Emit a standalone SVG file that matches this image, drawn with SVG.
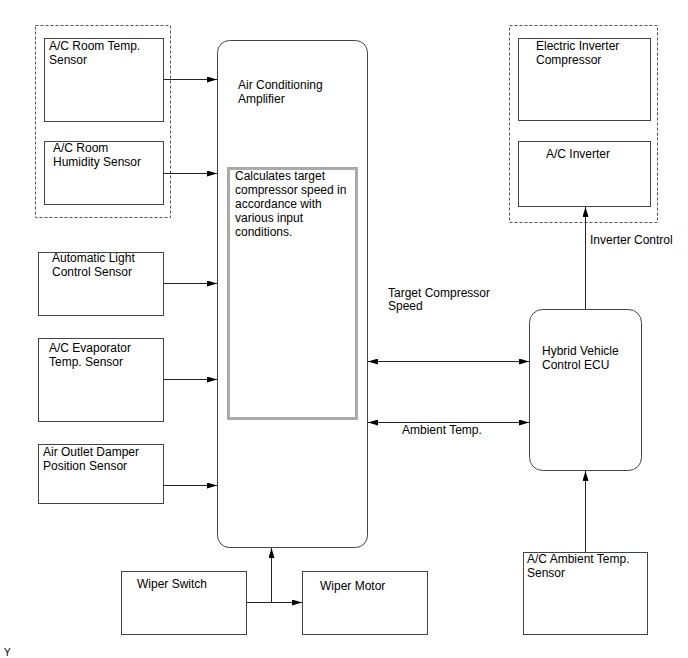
<svg xmlns="http://www.w3.org/2000/svg" width="688" height="658" viewBox="0 0 688 658">
<defs>
<marker id="ah" viewBox="0 0 10 6" refX="10" refY="3" markerWidth="10" markerHeight="6" markerUnits="userSpaceOnUse" orient="auto-start-reverse">
<path d="M0,0 L10,3 L0,6 z" fill="#000"/>
</marker>
<style>
text{font-family:"Liberation Sans",Arial,sans-serif;font-size:12px;fill:#000}
.box{fill:#fff;stroke:#444;stroke-width:1}
.grp{fill:none;stroke:#555;stroke-width:1;stroke-dasharray:3,2}
.ln{fill:none;stroke:#222;stroke-width:1}
.arr{marker-end:url(#ah)}
.dbl{marker-start:url(#ah);marker-end:url(#ah)}
</style>
</defs>
<rect width="688" height="658" fill="#fff"/>
<rect class="grp" x="35.5" y="25.5" width="135" height="192"/>
<rect class="grp" x="509.5" y="25.5" width="148" height="197"/>

<g id="roomTemp"><rect class="box" x="44.5" y="38.5" width="119" height="83"/><text x="49" y="50">A/C Room Temp.</text><text x="49" y="64">Sensor</text></g>
<g id="roomHumidity"><rect class="box" x="44.5" y="141.5" width="119" height="63"/><text x="53" y="152">A/C Room</text><text x="53" y="166">Humidity Sensor</text></g>
<g id="lightSensor"><rect class="box" x="38.5" y="252.5" width="125" height="63"/><text x="52" y="262">Automatic Light</text><text x="52" y="276">Control Sensor</text></g>
<g id="evapSensor"><rect class="box" x="38.5" y="338.5" width="125" height="83"/><text x="49" y="352">A/C Evaporator</text><text x="49" y="366">Temp. Sensor</text></g>
<g id="damperSensor"><rect class="box" x="38.5" y="444.5" width="125" height="59"/><text x="43" y="456">Air Outlet Damper</text><text x="43" y="470">Position Sensor</text></g>

<g id="amplifier"><rect class="box" x="217.5" y="40.5" width="150" height="507" rx="12" ry="12"/><text x="238" y="89">Air Conditioning</text><text x="238" y="103">Amplifier</text>
<rect x="228.5" y="168.5" width="128" height="250" fill="none" stroke="#aaa" stroke-width="3"/>
<text x="235" y="180">Calculates target</text><text x="235" y="194">compressor speed in</text><text x="235" y="208">accordance with</text><text x="235" y="222">various input</text><text x="235" y="236">conditions.</text></g>

<g id="wiperSwitch"><rect class="box" x="121.5" y="571.5" width="125" height="63"/><text x="137" y="588">Wiper Switch</text></g>
<g id="wiperMotor"><rect class="box" x="302.5" y="571.5" width="125" height="63"/><text x="320" y="590">Wiper Motor</text></g>

<g id="compressor"><rect class="box" x="518.5" y="38.5" width="132" height="82"/><text x="536" y="50">Electric Inverter</text><text x="536" y="64">Compressor</text></g>
<g id="inverter"><rect class="box" x="518.5" y="141.5" width="132" height="65"/><text x="546" y="158">A/C Inverter</text></g>
<g id="hvEcu"><rect class="box" x="529.5" y="309.5" width="112" height="161" rx="13" ry="13"/><text x="542" y="355">Hybrid Vehicle</text><text x="542" y="369">Control ECU</text></g>
<g id="ambientSensor"><rect class="box" x="523.5" y="552.5" width="124" height="82"/><text x="527" y="563">A/C Ambient Temp.</text><text x="527" y="577">Sensor</text></g>

<g id="connectors">
<line class="ln arr" x1="164" y1="79.5" x2="217" y2="79.5"/>
<line class="ln arr" x1="164" y1="173.5" x2="217" y2="173.5"/>
<line class="ln arr" x1="164" y1="283.5" x2="217" y2="283.5"/>
<line class="ln arr" x1="164" y1="379.5" x2="217" y2="379.5"/>
<line class="ln arr" x1="164" y1="485.5" x2="217" y2="485.5"/>
<line class="ln dbl" x1="368" y1="361.5" x2="529" y2="361.5"/>
<line class="ln dbl" x1="368" y1="422.5" x2="529" y2="422.5"/>
<line class="ln arr" x1="585.5" y1="309" x2="585.5" y2="207"/>
<line class="ln arr" x1="585.5" y1="552" x2="585.5" y2="471"/>
<line class="ln arr" x1="247" y1="602.5" x2="302" y2="602.5"/>
<line class="ln arr" x1="271.5" y1="602.5" x2="271.5" y2="548"/>
<text x="388" y="297">Target Compressor</text><text x="388" y="310">Speed</text>
<text x="402" y="434">Ambient Temp.</text>
<text x="590" y="244">Inverter Control</text>
</g>
<text x="4" y="656" style="font-size:10px">Y</text>
</svg>
